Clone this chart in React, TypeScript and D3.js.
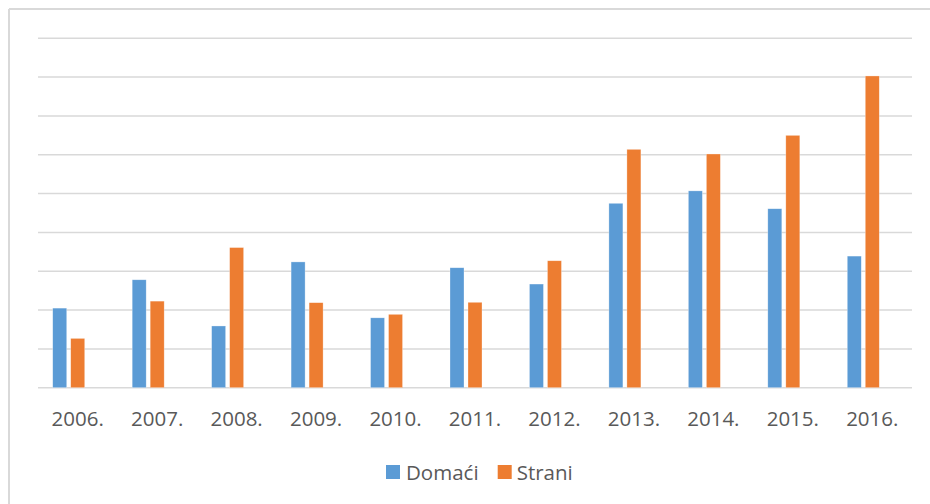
import React from 'react';
import * as d3 from 'd3';

const years = ['2006.', '2007.', '2008.', '2009.', '2010.', '2011.', '2012.', '2013.', '2014.', '2015.', '2016.'];
const domaci = [205, 278, 159, 324, 180, 309, 267, 475, 507, 461, 339];
const strani = [127, 223, 361, 219, 189, 220, 327, 614, 602, 650, 803];
const gridTicks = [0, 100, 200, 300, 400, 500, 600, 700, 800, 900];

const seriesNames = ['Domaći', 'Strani'];
const seriesColors = ['#5B9BD5', '#ED7D31'];

const width = 930;
const height = 504;
const plot = { left: 38, right: 912, top: 38.3, bottom: 387.7 };

const App: React.FC = () => {
  const x = d3.scaleBand().domain(years).range([plot.left, plot.right]).padding(0);
  // three slots per category (the third one is an empty series in the source chart)
  const inner = d3
    .scaleBand()
    .domain(['0', '1', '2'])
    .range([0, x.bandwidth()])
    .paddingInner(0.222)
    .paddingOuter(0.818);
  const y = d3.scaleLinear().domain([0, 900]).range([plot.bottom, plot.top]);

  const series = [domaci, strani];
  const font = "'Open Sans', 'DejaVu Sans', sans-serif";

  return (
    <div style={{ position: 'fixed', left: 0, top: 0, width, height, overflow: 'hidden' }}>
      <svg width={width} height={height} style={{ display: 'block' }}>
        <rect x={0} y={0} width={width} height={height} fill="#fff" />
        {/* frame: only top and left edges fall inside the picture */}
        <line x1={9} y1={9} x2={width} y2={9} stroke="#d9d9d9" strokeWidth={2} />
        <line x1={9} y1={9} x2={9} y2={height} stroke="#d9d9d9" strokeWidth={2} />

        {gridTicks.map(t => (
          <line
            key={t}
            x1={plot.left}
            x2={plot.right}
            y1={y(t)}
            y2={y(t)}
            stroke="#d9d9d9"
            strokeWidth={1.5}
          />
        ))}

        {series.map((vals, si) =>
          vals.map((v, i) => (
            <rect
              key={`${si}-${i}`}
              x={x(years[i])! + inner(String(si))!}
              y={y(v)}
              width={inner.bandwidth()}
              height={y(0) - y(v)}
              fill={seriesColors[si]}
              stroke="#fff"
              strokeOpacity={0.5}
              strokeWidth={0.6}
            />
          ))
        )}

        {years.map(yr => (
          <text
            key={yr}
            x={x(yr)! + x.bandwidth() / 2}
            y={426}
            textAnchor="middle"
            fontFamily={font}
            fontSize={20.5}
            fill="#595959"
          >
            {yr}
          </text>
        ))}

        <g>
          <rect x={386} y={465} width={14} height={14} fill={seriesColors[0]} />
          <text x={406} y={479.5} fontFamily={font} fontSize={20.5} fill="#595959">
            {seriesNames[0]}
          </text>
          <rect x={497.7} y={465} width={14} height={14} fill={seriesColors[1]} />
          <text x={516.7} y={479.5} fontFamily={font} fontSize={20.5} fill="#595959">
            {seriesNames[1]}
          </text>
        </g>
      </svg>
    </div>
  );
};

export default App;
